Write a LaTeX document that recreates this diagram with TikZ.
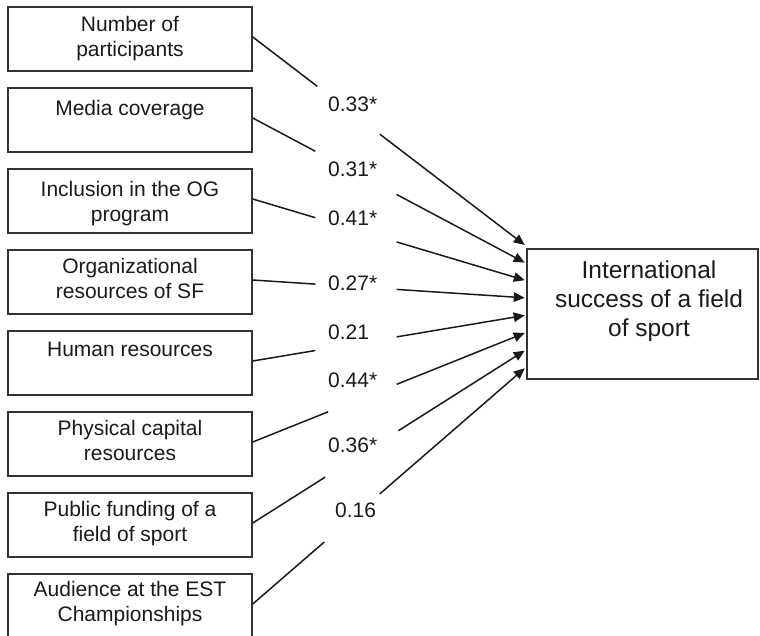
\documentclass[tikz,border=0pt]{standalone}
\usepackage{fontspec}
\setmainfont{Liberation Sans}
\usetikzlibrary{calc,arrows.meta}

\definecolor{ink}{HTML}{1A1A1A}
\definecolor{frame}{HTML}{333333}

\begin{document}
\begin{tikzpicture}[x=1pt,y=-1pt,
  factor/.style={draw=frame, line width=1.5pt, minimum width=244pt,
    minimum height=64pt, inner sep=0pt},
  outcome/.style={draw=frame, line width=1.5pt, minimum width=231pt,
    minimum height=130pt, inner sep=0pt},
  ftext/.style={anchor=north, inner sep=0pt, align=center, text=ink,
    font=\fontsize{21}{25}\selectfont},
  otext/.style={anchor=north, inner sep=0pt, align=center, text=ink,
    font=\fontsize{24.5}{29}\selectfont},
  coef/.style={anchor=base west, inner sep=0pt, text=ink,
    font=\fontsize{21}{25}\selectfont},
  conn/.style={draw=ink, line width=1.5pt},
  tip/.style={-{Triangle[length=11pt,width=9.5pt]}}
]
\useasboundingbox (0,0) rectangle (760,635);
\clip (0,0) rectangle (760,635);

% factor boxes
\node[factor] (b1) at (130,39)  {};
\node[factor] (b2) at (130,120) {};
\node[factor] (b3) at (130,201) {};
\node[factor] (b4) at (130,282) {};
\node[factor] (b5) at (130,363) {};
\node[factor] (b6) at (130,444) {};
\node[factor] (b7) at (130,525) {};
\node[factor] (b8) at (130,606) {};

% factor captions, set near the top of each box
\node[ftext] (c1) at ($(b1.north)+(0,9.5)$)  {Number of\\participants};
\node[ftext] (c2) at ($(b2.north)+(0,12.5)$) {Media coverage};
\node[ftext] (c3) at ($(b3.north)+(0,12.5)$) {Inclusion in the OG\\program};
\node[ftext] (c4) at ($(b4.north)+(0,9)$)    {Organizational\\resources of SF};
\node[ftext] (c5) at ($(b5.north)+(0,12)$)   {Human resources};
\node[ftext] (c6) at ($(b6.north)+(0,8.5)$)  {Physical capital\\resources};
\node[ftext] (c7) at ($(b7.north)+(0,9)$)    {Public funding of a\\field of sport};
\node[ftext] (c8) at ($(b8.north)+(0,7.5)$)  {Audience at the EST\\Championships};

% outcome box
\node[outcome] (out) at (642.5,314) {};
\node[otext] (outc) at (649,261) {International\\success of a field\\of sport};

% start points on the factor boxes and arrow ends on the outcome box
\foreach \i in {1,...,8}{
  \coordinate (s\i) at ($(b\i.east)+(0,-2)$);
  \coordinate (t\i) at ($(out.west)+(-1.5,{-69+17.6*(\i-1)})$);
}

% connectors, interrupted around the coefficients
\foreach \i/\a/\b in {1/0.237/0.467, 2/0.23/0.529, 3/0.23/0.529, 4/0.23/0.529,
                      5/0.23/0.529, 6/0.277/0.529, 7/0.266/0.535, 8/0.263/0.467}{
  \draw[conn] (s\i) -- ($(s\i)!\a!(t\i)$);
  \draw[conn,tip] ($(s\i)!\b!(t\i)$) -- (t\i);
}

% path coefficients
\node[coef] (k1) at (328,111.7) {0.33*};
\node[coef] (k2) at (328,176.7) {0.31*};
\node[coef] (k3) at (328,225)   {0.41*};
\node[coef] (k4) at (328,290)   {0.27*};
\node[coef] (k5) at (328,339)   {0.21};
\node[coef] (k6) at (328,387.3) {0.44*};
\node[coef] (k7) at (328,452.5) {0.36*};
\node[coef] (k8) at (335,517.3) {0.16};
\end{tikzpicture}
\end{document}
